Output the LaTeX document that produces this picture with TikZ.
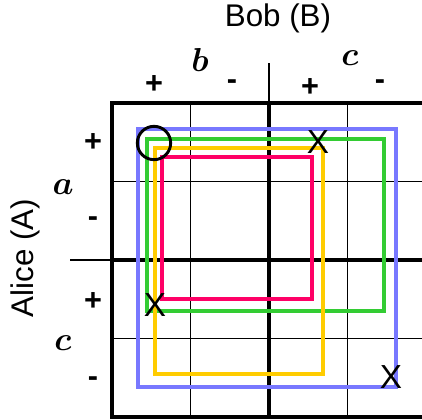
\documentclass[tikz,border=0pt]{standalone}
\usepackage{fontspec}
\setmainfont{Liberation Sans}
\definecolor{ringblue}{RGB}{120,120,255}
\definecolor{ringgreen}{RGB}{51,204,51}
\definecolor{ringyellow}{RGB}{255,204,0}
\definecolor{ringpink}{RGB}{255,0,102}
\begin{document}
\begin{tikzpicture}[
  x=0.75pt, y=-0.75pt,
  thin grid/.style={draw=black, line width=1pt},
  thick grid/.style={draw=black, line width=3pt},
  party/.style={font=\fontsize{23.5}{26}\selectfont},
  setting/.style={font=\fontsize{26}{28}\selectfont\boldmath},
  sign/.style={font=\fontsize{23}{26}\selectfont\bfseries},
  ring/.style={line width=2.3pt},
  cross/.style={font=\fontsize{25}{28}\selectfont, inner sep=0pt},
  hit/.style={draw=black, circle, line width=2.2pt, minimum size=25, inner sep=0pt}
]
\useasboundingbox (0,0) rectangle (422,419);
\clip (0,0) rectangle (422,419);
% table
\foreach \i in {1,3} {
  \draw[thin grid] (112+78.5*\i,103) -- (112+78.5*\i,417);
  \draw[thin grid] (112,103+78.5*\i) -- (426,103+78.5*\i);
}
\draw[thin grid] (269,63) -- (269,103);
\draw[thin grid] (70,260) -- (112,260);
\draw[thick grid] (269,103) -- (269,417);
\draw[thick grid] (112,260) -- (426,260);
\draw[thick grid] (112,103) rectangle (426,417);
% headings
\node[party] (bob) at (278,18) {Bob (B)};
\node[party, rotate=90] (alice) at (25,258) {Alice (A)};
\node[setting] (bobb) at (200,60) {$b$};
\node[setting] (bobc) at (350,58) {$c$};
\node[setting] (alicea) at (63,187) {$a$};
\node[setting] (alicec) at (63,343) {$c$};
\node[sign] (bbp) at (154,85) {+};
\node[sign] (bbm) at (232,85) {-};
\node[sign] (bcp) at (310,88) {+};
\node[sign] (bcm) at (380,85) {-};
\node[sign] (aap) at (93,143) {+};
\node[sign] (aam) at (93,222) {-};
\node[sign] (acp) at (93,302) {+};
\node[sign] (acm) at (93,382) {-};
% loops
\draw[ring, ringblue] (138,129) rectangle (396,387);
\draw[ring, ringgreen] (147,139) rectangle (384,311);
\draw[ring, ringyellow] (155,148) rectangle (323,374);
\draw[ring, ringpink] (162,157) rectangle (312,299);
% marks
\node[hit] (start) at (154,143) {};
\node[cross] (x1) at (318,142) {X};
\node[cross] (x2) at (155,305) {X};
\node[cross] (x3) at (391,377) {X};
\end{tikzpicture}
\end{document}
